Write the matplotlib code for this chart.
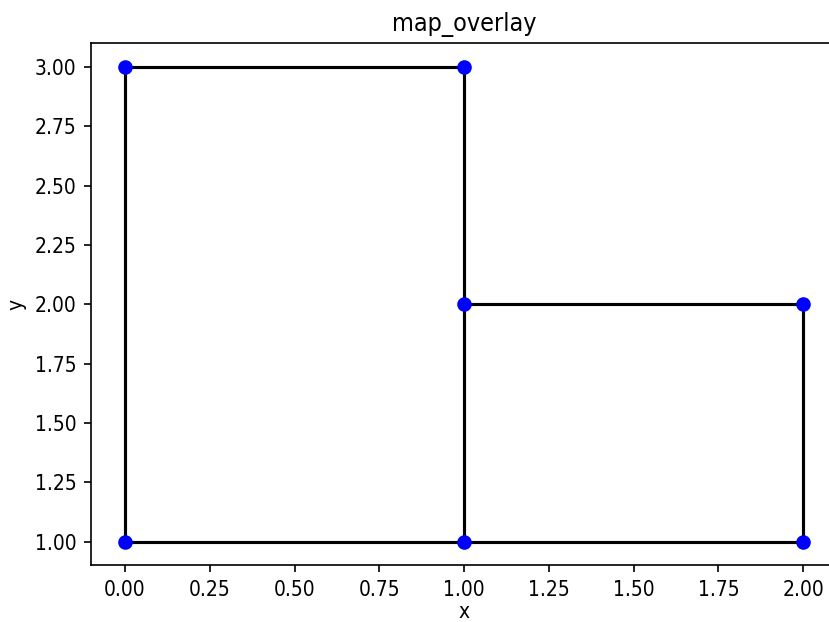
import matplotlib
matplotlib.use("Agg")
import matplotlib.pyplot as plt
from matplotlib import font_manager

# Vertex coordinates
node_x = [0, 1, 1, 0, 1, 2, 2]
node_y = [1, 1, 3, 3, 2, 2, 1]

# Edges as pairs of vertex indices
edges = [(0, 1), (1, 4), (4, 2), (2, 3), (3, 0), (4, 5), (5, 6), (6, 1)]

# Prefer a condensed face when one is installed
names = {f.name for f in font_manager.fontManager.ttflist}
if "DejaVu Sans Condensed" in names:
    plt.rcParams["font.family"] = ["DejaVu Sans Condensed", "DejaVu Sans"]
else:
    plt.rcParams["font.family"] = ["DejaVu Sans"]
    plt.rcParams["font.stretch"] = "condensed"

dpi = 150
fig = plt.figure(figsize=(829 / dpi, 622 / dpi), dpi=dpi)
ax = fig.add_axes([0.1098, 0.091, 0.900, 0.8394])

for a, b in edges:
    ax.plot([node_x[a], node_x[b]], [node_y[a], node_y[b]], color="black", zorder=1)

ax.plot(node_x, node_y, "o", color="blue", linestyle="none", zorder=2)

ax.set_title("map_overlay")
ax.set_xlabel("x", labelpad=1.0)
ax.set_ylabel("y")

fig.savefig("out.png", dpi=dpi)
